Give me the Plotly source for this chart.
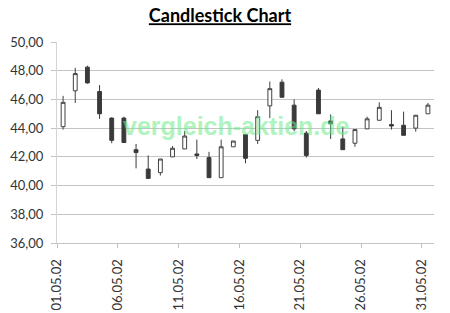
import plotly.graph_objects as go

dates = [f"{d:02d}.05.02" for d in range(1, 32)]
opens  = [44.1, 46.6, 48.25, 46.55, 44.7, 44.7, 42.5, 41.15, 40.9, 42.0,
          42.55, 42.2, 41.95, 40.55, 42.7, 43.55, 43.15, 45.55, 47.2, 45.6,
          43.65, 46.65, 44.5, 43.25, 42.95, 43.95, 44.55, 44.25, 44.2, 44.0, 45.0]
highs  = [46.25, 48.2, 48.35, 47.0, 44.75, 44.8, 42.9, 42.1, 41.85, 42.75,
          43.8, 43.2, 42.35, 43.2, 43.1, 43.6, 45.25, 47.25, 47.4, 46.0,
          43.8, 46.8, 44.95, 44.1, 43.9, 44.8, 45.8, 45.25, 45.15, 44.9, 45.75]
lows   = [43.9, 45.75, 47.1, 44.65, 42.95, 43.0, 41.2, 40.5, 40.7, 42.0,
          42.55, 41.85, 40.55, 40.55, 42.7, 41.55, 42.9, 44.7, 46.15, 43.8,
          41.95, 45.0, 43.25, 42.5, 42.7, 43.95, 44.55, 43.9, 43.5, 43.75, 45.0]
closes = [45.8, 47.8, 47.15, 45.0, 43.15, 43.0, 42.3, 40.5, 41.85, 42.6,
          43.45, 42.1, 40.55, 42.7, 43.1, 41.9, 44.8, 46.75, 46.15, 43.95,
          42.1, 45.0, 44.3, 42.5, 43.9, 44.65, 45.45, 44.15, 43.5, 44.9, 45.6]
label_dates = ["01.05.02", "06.05.02", "11.05.02", "16.05.02", "21.05.02", "26.05.02", "31.05.02"]

idx = list(range(len(dates)))
tickvals = [dates.index(d) - 0.5 for d in label_dates]

W, H = 450, 313
ml, mr, mt, mb = 56.7, 16, 42.3, 69.7
pw, ph = W - ml - mr, H - mt - mb

fig = go.Figure(go.Candlestick(
    x=idx, open=opens, high=highs, low=lows, close=closes,
    increasing=dict(fillcolor="white", line=dict(color="#404040", width=1)),
    decreasing=dict(fillcolor="#3a3a3a", line=dict(color="#3a3a3a", width=1)),
    whiskerwidth=0, hoverinfo="skip", showlegend=False,
))

fig.add_annotation(
    text="<b>vergleich-aktien.de</b>",
    x=(236 - ml) / pw, y=1 - (126 - mt) / ph, xref="paper", yref="paper",
    xanchor="center", yanchor="middle",
    showarrow=False, font=dict(family="Liberation Sans", size=25, color="rgb(110,235,140)"),
    opacity=0.55,
)

fig.update_layout(
    width=W, height=H,
    margin=dict(l=ml, r=mr, t=mt, b=mb, pad=0, autoexpand=False),
    paper_bgcolor="white", plot_bgcolor="white",
    separators=",.",
    boxgap=0.55,
    title=dict(text="<b><u>Candlestick Chart</u></b>", x=220 / W, xanchor="center",
               y=1 - 16 / H, yanchor="middle",
               font=dict(family="Lato", size=18, color="black")),
    xaxis=dict(
        range=[-0.5, 30.5], tickmode="array", tickvals=tickvals, ticktext=label_dates,
        tickangle=-90, ticks="outside", ticklen=4, tickcolor="#bfbfbf",
        ticklabelstandoff=6, automargin=False,
        showgrid=False, showline=True, linecolor="#c4c4c4", linewidth=1,
        rangeslider=dict(visible=False), zeroline=False,
        tickfont=dict(family="Lato", size=13, color="#333333"),
    ),
    yaxis=dict(
        range=[36, 50], dtick=2, tick0=36, tickformat=".2f",
        ticks="outside", ticklen=5, tickcolor="#c4c4c4",
        ticklabelstandoff=5, automargin=False,
        showgrid=True, gridcolor="#c4c4c4", gridwidth=1,
        showline=True, linecolor="#d4d4d4", linewidth=1, zeroline=False,
        tickfont=dict(family="Lato", size=13, color="#333333"),
    ),
)

fig.write_html("out.html")
